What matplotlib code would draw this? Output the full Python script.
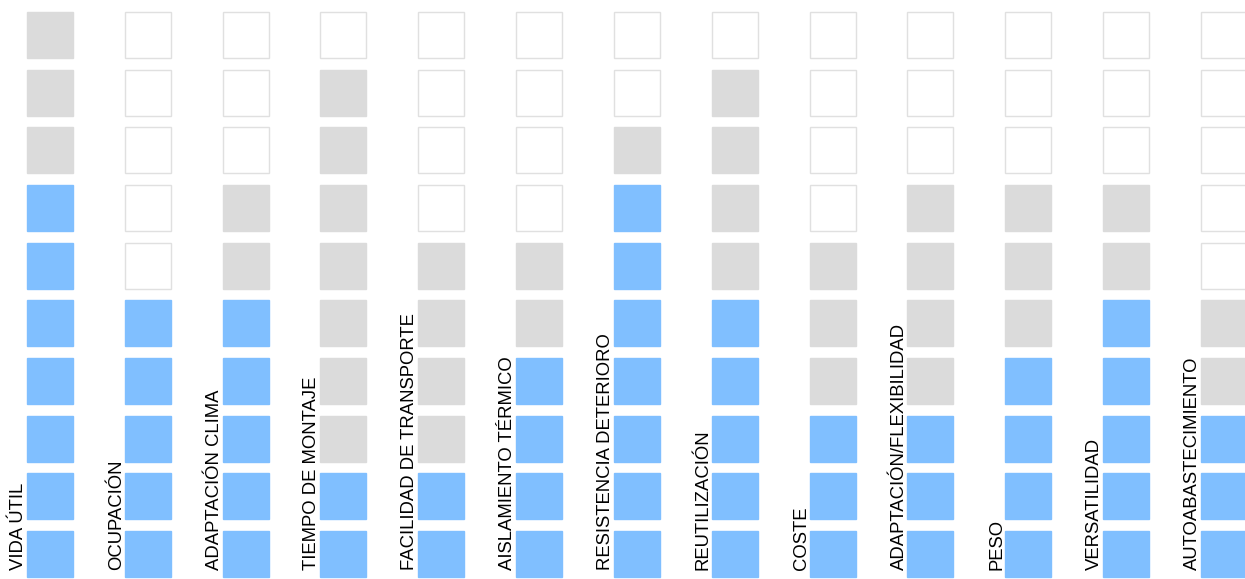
import matplotlib
matplotlib.use("Agg")
import matplotlib.pyplot as plt
from matplotlib.patches import Rectangle
from matplotlib.transforms import offset_copy

labels = ["VIDA ÚTIL", "OCUPACIÓN", "ADAPTACIÓN CLIMA", "TIEMPO DE MONTAJE",
          "FACILIDAD DE TRANSPORTE", "AISLAMIENTO TÉRMICO", "RESISTENCIA DETERIORO",
          "REUTILIZACIÓN", "COSTE", "ADAPTACIÓN/FLEXIBILIDAD", "PESO",
          "VERSATILIDAD", "AUTOABASTECIMIENTO"]
blue_counts = [7, 5, 5, 2, 2, 4, 7, 5, 3, 3, 4, 5, 3]
gray_counts = [3, 0, 2, 7, 4, 2, 1, 4, 3, 4, 3, 2, 2]
n_rows = 10

BLUE = "#80bfff"
GRAY = "#dbdbdb"
EDGE = "#e0e0e0"

W, H = 1245, 579
fig = plt.figure(figsize=(W / 100, H / 100), dpi=100)
ax = fig.add_axes([0, 0, 1, 1])
ax.set_axis_off()

col_px = 97.83
row_px = 57.67
x0_px = 27
y0_px = 12
sq_px = 46
ax.set_xlim(-x0_px / col_px, (W - x0_px) / col_px)
ax.set_ylim((H - y0_px) / row_px, -y0_px / row_px)
sw = sq_px / col_px
sh = sq_px / row_px

for i, (b, g) in enumerate(zip(blue_counts, gray_counts)):
    for j in range(n_rows):
        k = n_rows - 1 - j  # position from bottom
        if k < b:
            fc, ec = BLUE, BLUE
        elif k < b + g:
            fc, ec = GRAY, GRAY
        else:
            fc, ec = "white", EDGE
        ax.add_patch(Rectangle((i, j), sw, sh, facecolor=fc, edgecolor=ec, linewidth=1.0))

trans = offset_copy(ax.transData, fig=fig, x=0, y=7, units="dots")
for i, lab in enumerate(labels):
    ax.text(i, n_rows - 1 + sh, lab, rotation=90, ha="right", va="bottom",
            fontsize=13.3, family="Liberation Sans", color="black", transform=trans)

fig.savefig("out.png", dpi=100)
